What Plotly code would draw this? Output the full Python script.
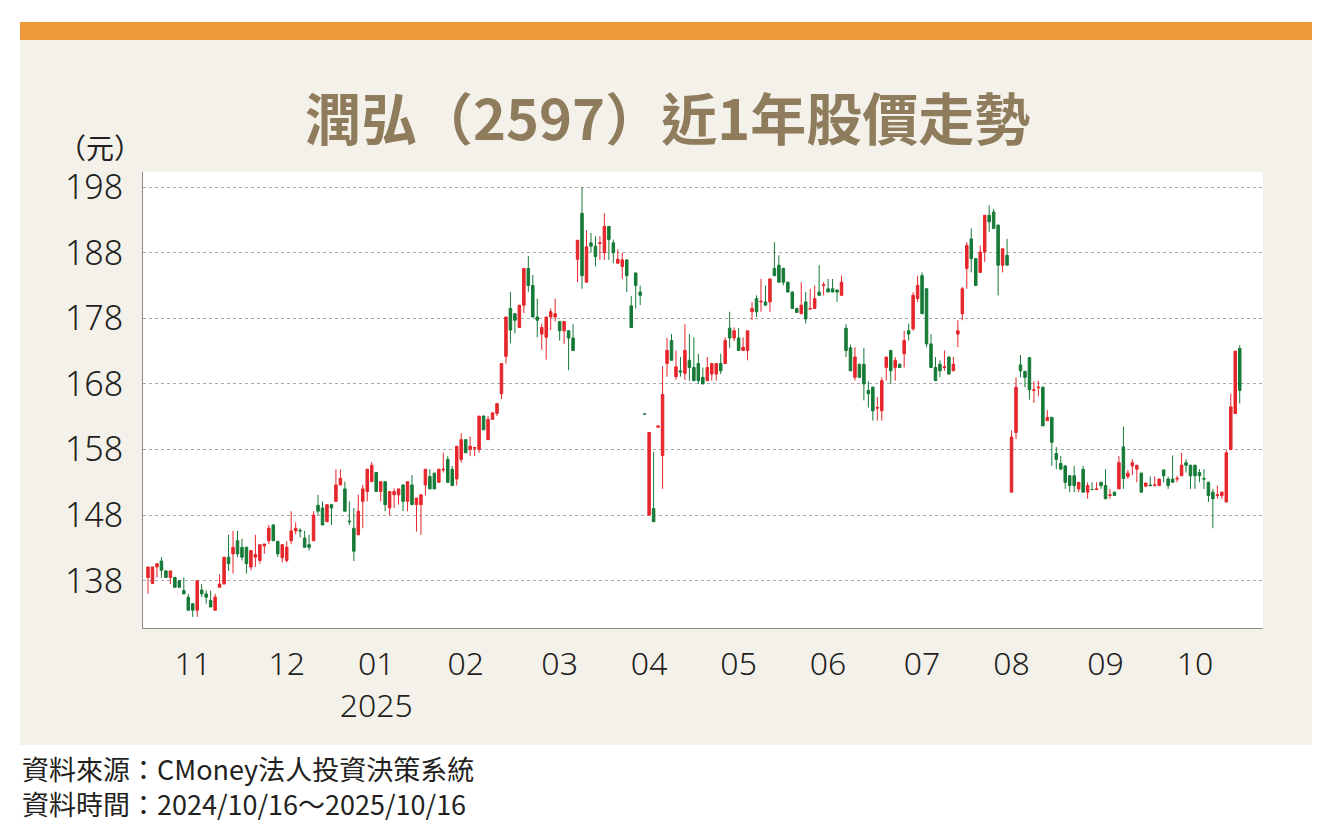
import pandas as pd
import plotly.graph_objects as go

# ---------------- data ----------------
open_ = [138.5,137.6,140.1,141.0,139.5,138.5,138.5,138.0,136.5,135.5,134.5,133.5,136.6,136.0,135.0,133.5,137.0,137.5,141.6,142.1,
         144.1,143.1,143.1,140.1,141.6,141.1,143.3,144.1,146.5,144.0,141.5,141.1,144.1,145.6,145.7,144.5,143.5,144.1,149.5,149.1,
         147.0,149.6,150.1,152.6,152.0,147.1,146.0,145.0,150.1,151.6,153.1,154.5,151.6,153.1,149.1,151.1,151.1,152.6,150.1,152.6,
         149.6,149.6,152.6,153.9,154.4,153.0,154.9,156.5,155.0,153.5,156.5,159.5,158.0,158.2,158.0,163.1,159.5,162.6,163.5,166.5,
         172.2,179.5,178.7,176.6,180.0,185.6,183.0,178.2,175.6,175.1,178.2,178.2,177.5,176.1,176.1,175.0,187.0,194.0,183.5,189.5,
         189.0,189.4,188.0,192.0,189.5,186.4,185.9,186.9,179.9,184.9,182.0,163.4,148.0,149.0,161.4,157.1,171.1,174.6,169.1,170.0,
         169.6,171.6,170.5,171.1,169.0,168.5,169.5,169.5,171.1,171.1,176.5,175.0,175.0,173.1,173.1,179.0,181.0,180.5,180.5,180.5,
         185.6,186.1,185.6,183.5,182.0,179.5,178.7,180.5,179.4,179.5,182.0,183.0,182.5,182.5,182.3,181.5,176.5,173.5,169.0,171.0,
         171.0,167.0,167.5,164.3,163.9,170.5,173.1,170.5,171.0,172.6,176.1,176.4,181.0,184.5,182.5,174.1,170.5,171.0,170.5,172.1,
         170.0,175.6,178.7,185.6,190.1,187.1,185.0,188.1,193.7,194.2,192.2,186.1,187.6,151.5,160.6,170.9,169.9,172.0,167.0,167.4,
         167.5,162.4,162.9,157.4,155.9,155.5,154.0,154.0,152.0,155.0,151.5,151.9,151.9,153.0,152.5,151.0,151.5,152.0,158.4,153.9,
         155.5,155.0,154.4,152.4,152.6,152.5,152.5,154.9,153.5,153.5,153.5,154.0,156.0,155.6,155.6,154.5,153.6,153.0,151.5,151.0,
         151.0,150.0,158.0,163.5,173.4]
high_ = [140.1,140.1,140.6,141.6,139.6,139.5,138.6,138.1,138.5,136.0,134.6,138.0,137.5,136.5,136.5,136.0,139.0,141.6,145.0,145.6,
         145.6,144.4,143.2,142.6,145.0,143.5,143.6,146.5,146.6,144.1,143.6,144.0,148.6,146.9,146.0,145.6,145.0,148.6,151.1,150.1,
         149.6,149.7,155.0,155.0,153.1,150.1,149.1,151.1,152.6,155.0,156.1,154.6,153.1,153.2,151.6,152.1,152.0,152.7,153.1,154.1,
         150.6,151.1,155.0,155.0,154.5,155.0,157.5,157.0,155.5,158.5,160.5,159.6,160.0,158.4,163.1,163.2,163.1,163.6,165.0,171.1,
         178.2,182.0,178.8,180.0,185.6,187.5,184.6,181.0,177.2,178.2,179.5,181.0,177.6,177.6,176.2,177.1,189.9,198.0,191.4,191.0,
         190.5,190.5,194.0,192.1,190.0,188.5,188.0,187.0,181.4,185.0,183.0,163.4,160.6,157.6,161.6,170.7,175.0,175.6,173.1,172.1,
         177.1,175.6,175.1,172.6,170.5,172.1,171.2,171.1,172.6,175.1,179.0,176.6,176.5,175.1,176.1,180.5,181.5,184.0,183.0,184.0,
         189.6,187.6,185.7,183.6,182.1,179.6,183.5,182.0,182.5,183.0,186.1,183.5,184.0,184.0,182.4,184.5,177.1,174.0,173.6,171.1,
         173.5,168.4,167.6,166.0,169.0,172.1,173.2,172.1,171.1,176.1,177.2,182.0,184.5,185.0,182.6,175.6,172.1,171.6,173.1,172.2,
         172.1,177.7,182.8,189.6,191.7,187.2,189.1,193.7,195.2,194.7,192.3,188.6,190.1,160.9,169.0,172.4,170.0,172.1,168.4,168.5,
         167.6,164.0,163.0,158.4,157.0,155.6,154.1,155.5,153.0,155.5,153.0,153.0,153.0,153.1,155.0,152.0,151.6,157.0,161.5,154.9,
         156.5,155.6,154.5,152.9,153.9,153.9,153.5,154.9,153.9,157.1,154.0,157.5,156.5,155.7,155.7,155.0,155.0,153.1,152.0,152.5,
         151.6,158.0,166.5,173.0,173.9]
low_ = [136.0,137.6,138.5,138.5,138.5,137.5,137.0,137.0,136.0,133.5,132.5,132.5,135.5,134.5,134.0,133.5,137.0,137.5,139.5,139.1,
        141.6,141.1,139.1,139.6,140.1,140.6,142.1,143.6,144.1,141.6,140.8,140.8,143.6,145.1,144.6,143.1,142.6,144.1,148.0,146.5,
        147.0,146.5,150.1,152.6,148.6,146.5,141.0,145.0,146.0,150.1,153.1,151.6,150.1,148.6,148.0,149.1,149.6,148.6,148.6,149.6,
        145.5,145.0,151.0,152.0,152.0,153.0,154.5,153.0,152.5,152.5,156.0,157.5,157.0,157.0,157.5,161.0,159.5,162.6,163.1,165.7,
        171.1,174.2,175.7,176.6,178.8,182.0,178.2,175.1,173.2,171.7,176.2,177.5,174.6,174.1,170.1,173.1,183.5,182.5,183.5,188.0,
        185.9,186.9,186.9,186.9,186.4,186.4,184.0,182.0,176.6,179.5,180.0,163.4,148.0,147.0,161.4,152.0,169.1,171.6,168.6,169.1,
        168.6,168.5,168.5,168.0,168.0,168.5,168.5,168.5,169.5,171.1,173.5,174.5,173.1,173.0,171.6,177.7,178.2,179.0,180.0,179.0,
        184.5,183.5,183.0,182.0,179.5,178.9,178.7,177.2,179.4,179.5,181.5,181.5,182.0,182.0,180.5,181.5,172.1,170.0,168.5,169.0,
        165.5,164.4,162.4,162.4,162.4,168.5,168.0,168.5,170.4,170.5,174.6,176.1,180.5,178.7,173.6,170.5,168.5,169.0,170.0,169.5,
        170.0,173.6,177.7,182.5,185.0,183.0,185.0,186.6,191.2,191.7,181.5,185.0,186.1,151.5,159.6,169.0,167.5,165.6,165.1,166.1,
        161.6,162.4,155.5,155.0,155.0,152.0,151.5,151.5,151.5,151.5,150.5,151.9,151.9,152.0,150.5,150.5,151.0,152.0,152.0,153.5,
        154.1,153.0,151.5,152.4,152.4,152.4,152.5,153.0,152.0,153.0,153.0,154.0,154.5,152.0,152.0,153.0,152.0,150.0,146.0,150.5,
        150.5,150.0,158.0,163.5,165.0]
close_ = [140.1,140.1,140.6,139.6,138.5,139.5,137.0,137.0,136.0,133.5,133.5,138.0,136.0,135.5,134.0,135.5,137.5,141.6,140.6,143.1,
          142.1,141.6,140.6,142.6,142.0,143.5,143.6,146.0,144.1,142.1,143.5,143.1,145.6,146.0,145.6,143.1,143.1,148.0,148.6,146.5,
          149.6,149.1,152.6,153.6,148.6,147.0,142.5,148.6,152.0,155.0,155.6,151.6,153.1,149.6,151.6,151.6,152.0,150.1,153.1,149.6,
          150.6,151.1,155.0,152.0,152.0,155.0,155.0,153.0,152.5,158.5,159.5,157.5,158.5,158.3,163.1,161.0,162.6,163.6,165.0,171.1,
          178.2,176.2,177.7,180.0,185.6,183.0,178.2,177.7,176.6,178.2,179.0,178.7,176.1,177.5,175.0,173.1,189.9,184.5,188.9,189.0,
          187.4,189.5,192.0,190.0,188.0,187.0,186.9,184.5,176.6,183.0,181.5,163.4,160.6,147.0,161.6,166.4,173.1,171.6,170.6,169.8,
          173.1,170.5,168.5,168.5,168.0,170.5,171.1,171.1,170.0,174.6,175.0,176.1,173.1,173.6,176.1,179.5,179.0,180.6,180.0,184.0,
          184.5,183.5,183.5,182.0,179.5,178.9,180.0,177.9,179.5,181.0,181.5,183.1,182.0,182.0,182.0,183.5,173.1,170.0,172.1,169.0,
          168.0,166.5,163.9,164.4,168.5,172.1,170.0,171.6,170.5,174.6,175.6,181.5,183.0,178.7,174.1,170.5,168.5,170.0,170.6,169.5,
          171.0,176.1,182.5,189.1,187.1,183.0,188.1,193.7,192.7,191.7,186.1,188.6,186.1,159.9,167.5,170.0,169.0,167.1,167.1,167.5,
          161.6,162.9,159.1,156.5,155.0,153.0,152.5,152.5,153.0,151.5,152.5,151.9,152.0,152.5,150.5,151.1,151.0,156.0,153.6,154.4,
          156.0,155.6,151.5,152.9,152.5,152.6,153.5,154.0,152.5,153.0,153.6,155.6,155.6,154.0,154.0,154.0,153.5,151.0,150.5,151.1,
          151.5,157.5,164.5,173.0,167.0]

# trading calendar (TWSE holidays removed)
holidays = ["2024-10-31", "2025-01-01", "2025-01-23", "2025-01-24", "2025-01-27", "2025-01-28",
            "2025-01-29", "2025-01-30", "2025-01-31", "2025-02-28", "2025-04-03", "2025-04-04",
            "2025-05-01", "2025-05-30", "2025-09-29", "2025-10-06", "2025-10-10"]
days = pd.bdate_range("2024-10-16", "2025-10-16")
dates = [d.strftime("%Y-%m-%d") for d in days if d.strftime("%Y-%m-%d") not in holidays]
n = len(close_)
if len(dates) < n:
    dates = dates + [f"extra{k}" for k in range(n - len(dates))]
dates = dates[:n]

tick_index = [10, 31, 51, 71, 92, 112, 132, 152, 173, 193, 214, 234]
tick_labels = ["11", "12", "01<br>2025", "02", "03", "04", "05", "06", "07", "08", "09", "10"]
y_ticks = [138, 148, 158, 168, 178, 188, 198]

title_text = "潤弘（2597）近1年股價走勢"
unit_text = "（元）"
source_lines = ["資料來源：CMoney法人投資決策系統", "資料時間：2024/10/16～2025/10/16"]

# ---------------- figure ----------------
RED = "#e5262b"
GREEN = "#167a37"
BEIGE = "#f4f1ea"
ORANGE = "#f0993a"
TITLE_C = "#8e7c5c"
NUM_FONT = "Noto Sans, Noto Sans CJK TC, sans-serif"
CJK_FONT = "Noto Sans CJK TC, Noto Sans, sans-serif"

W, H = 1334, 837
L, R, T, B = 143, 1263, 172, 628
pw, ph = R - L, B - T


def px(x):
    return (x - L) / pw


def py(y):
    return (B - y) / ph


fig = go.Figure()
fig.add_trace(go.Candlestick(
    x=dates, open=open_, high=high_, low=low_, close=close_,
    increasing=dict(line=dict(color=RED, width=1), fillcolor=RED),
    decreasing=dict(line=dict(color=GREEN, width=1), fillcolor=GREEN),
    whiskerwidth=0, showlegend=False, hoverinfo="skip",
))

shapes = [
    dict(type="rect", xref="paper", yref="paper", x0=px(20), x1=px(1312), y0=py(745), y1=py(22),
         fillcolor=BEIGE, line=dict(width=0), layer="below"),
    dict(type="rect", xref="paper", yref="paper", x0=px(20), x1=px(1312), y0=py(40), y1=py(22),
         fillcolor=ORANGE, line=dict(width=0), layer="below"),
    dict(type="rect", xref="paper", yref="paper", x0=0, x1=1, y0=0, y1=1,
         fillcolor="white", line=dict(width=0), layer="below"),
]

annotations = [
    dict(text=title_text, xref="paper", yref="paper", x=px(667), y=py(115), xanchor="center", yanchor="middle",
         showarrow=False, font=dict(family=CJK_FONT, size=56, color=TITLE_C, weight="bold")),
    dict(text=unit_text, xref="paper", yref="paper", x=px(56), y=py(147), xanchor="left", yanchor="middle",
         showarrow=False, font=dict(family=CJK_FONT, size=28, color="#231f20")),
    dict(text=source_lines[0] + "<br>" + source_lines[1], xref="paper", yref="paper", x=px(20), y=py(786),
         xanchor="left", yanchor="middle", align="left",
         showarrow=False, font=dict(family=CJK_FONT, size=27, color="#231f20")),
]

fig.update_layout(
    width=W, height=H,
    margin=dict(l=L, r=W - R, t=T, b=H - B, pad=0),
    paper_bgcolor="white", plot_bgcolor="white",
    shapes=shapes, annotations=annotations,
    boxgap=0.2,
    xaxis=dict(
        type="category", range=[-1.12, 249.2], rangeslider=dict(visible=False),
        tickmode="array", tickvals=[dates[i] for i in tick_index], ticktext=tick_labels,
        showgrid=False, zeroline=False, showline=True, linecolor="#8a8a8a", linewidth=1,
        ticks="", tickfont=dict(family=NUM_FONT, size=32, color="#231f20", weight=300),
        ticklabelstandoff=8,
    ),
    yaxis=dict(
        range=[130.8, 200.3], tickmode="array", tickvals=y_ticks,
        showgrid=True, gridcolor="#a9a9a9", griddash="dot", gridwidth=1,
        zeroline=False, showline=True, linecolor="#8a8a8a", linewidth=1,
        ticks="", tickfont=dict(family=NUM_FONT, size=34, color="#231f20", weight=300),
        ticklabelstandoff=12,
    ),
)

fig.write_html("out.html", config={"displayModeBar": False},
               post_script="document.body.style.margin='0';")
